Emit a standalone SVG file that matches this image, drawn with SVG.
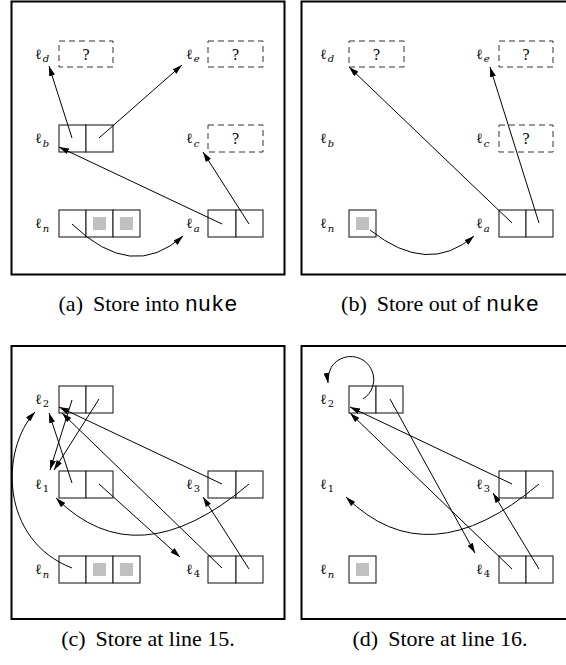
<svg xmlns="http://www.w3.org/2000/svg" width="566" height="665" viewBox="0 0 566 665">
<defs>
<marker id="ah" viewBox="0 0 10 6" markerWidth="10" markerHeight="6" refX="10" refY="3" orient="auto" markerUnits="userSpaceOnUse">
<path d="M0,0 L10,3 L0,6 Z" fill="#000"/>
</marker>
<style>
.frame{fill:none;stroke:#000;stroke-width:2}
.cell{fill:#fff;stroke:#222;stroke-width:1.1}
.unk{fill:none;stroke:#333;stroke-width:1;stroke-dasharray:6 4}
.gray{fill:#c0c0c0}
.ell{font-family:"DejaVu Serif",serif;font-size:14px;fill:#000}
.sub{font-size:10px;font-style:italic}
.num{font-size:10px}
.q{font-family:"Liberation Serif",serif;font-size:16px;text-anchor:middle;fill:#000}
.edge{fill:none;stroke:#000;stroke-width:1;marker-end:url(#ah)}
.cap{font-family:"Liberation Serif",serif;font-size:22px;text-anchor:middle;fill:#000}
.tt{font-family:"Liberation Mono",monospace}
</style>
</defs>
<rect width="566" height="665" fill="#fff"/>

<!-- Panel (a) -->
<g id="panel-a">
<rect class="frame" x="11.5" y="1.5" width="273" height="273"/>
<g id="a-ld"><text class="ell" x="35" y="58.5">ℓ<tspan class="sub" dx="1" dy="3.5">d</tspan></text><rect class="unk" x="59" y="41" width="54" height="26"/><text class="q" x="86" y="60">?</text></g>
<g id="a-le"><text class="ell" x="186" y="58.5">ℓ<tspan class="sub" dx="1" dy="3.5">e</tspan></text><rect class="unk" x="208" y="41" width="55" height="26"/><text class="q" x="235.5" y="60">?</text></g>
<g id="a-lb"><text class="ell" x="35" y="143">ℓ<tspan class="sub" dx="1" dy="3.5">b</tspan></text><rect class="cell" x="59" y="125" width="27" height="27"/><rect class="cell" x="86" y="125" width="27" height="27"/></g>
<g id="a-lc"><text class="ell" x="186" y="143">ℓ<tspan class="sub" dx="1" dy="3.5">c</tspan></text><rect class="unk" x="208" y="125" width="55" height="27"/><text class="q" x="235.5" y="144">?</text></g>
<g id="a-ln"><text class="ell" x="35" y="228">ℓ<tspan class="sub" dx="1" dy="3.5">n</tspan></text><rect class="cell" x="59" y="210" width="27" height="27"/><rect class="cell" x="86" y="210" width="27" height="27"/><rect class="cell" x="113" y="210" width="27" height="27"/><rect class="gray" x="93" y="217" width="13" height="13"/><rect class="gray" x="120" y="217" width="13" height="13"/></g>
<g id="a-la"><text class="ell" x="186" y="228">ℓ<tspan class="sub" dx="1" dy="3.5">a</tspan></text><rect class="cell" x="208" y="210" width="28" height="27"/><rect class="cell" x="236" y="210" width="27" height="27"/></g>
<g id="a-edges">
<path class="edge" d="M72,138 L49,66"/>
<path class="edge" d="M99,138 L182,65"/>
<path class="edge" d="M222,224 L59,147"/>
<path class="edge" d="M249,224 L203,152"/>
<path class="edge" d="M72,224 Q132,282 183,236"/>
</g>
</g>
<text class="cap" x="148" y="311">(a)<tspan dx="10">Store into </tspan><tspan class="tt">nuke</tspan></text>

<!-- Panel (b) -->
<g id="panel-b">
<rect class="frame" x="301.5" y="1.5" width="273" height="273"/>
<g id="b-ld"><text class="ell" x="320" y="58.5">ℓ<tspan class="sub" dx="1" dy="3.5">d</tspan></text><rect class="unk" x="349" y="41" width="55" height="26"/><text class="q" x="376.5" y="60">?</text></g>
<g id="b-le"><text class="ell" x="476" y="58.5">ℓ<tspan class="sub" dx="1" dy="3.5">e</tspan></text><rect class="unk" x="499" y="41" width="54" height="26"/><text class="q" x="526" y="60">?</text></g>
<g id="b-lb"><text class="ell" x="320" y="143">ℓ<tspan class="sub" dx="1" dy="3.5">b</tspan></text></g>
<g id="b-lc"><text class="ell" x="476" y="143">ℓ<tspan class="sub" dx="1" dy="3.5">c</tspan></text><rect class="unk" x="499" y="125" width="54" height="27"/><text class="q" x="526" y="144">?</text></g>
<g id="b-ln"><text class="ell" x="320" y="228">ℓ<tspan class="sub" dx="1" dy="3.5">n</tspan></text><rect class="cell" x="349" y="210" width="27" height="27"/><rect class="gray" x="356" y="217" width="13" height="13"/></g>
<g id="b-la"><text class="ell" x="476" y="228">ℓ<tspan class="sub" dx="1" dy="3.5">a</tspan></text><rect class="cell" x="499" y="210" width="27" height="27"/><rect class="cell" x="526" y="210" width="27" height="27"/></g>
<g id="b-edges">
<path class="edge" d="M512,223 L349,67"/>
<path class="edge" d="M539,223 L490,67"/>
<path class="edge" d="M370,230 Q428,276 474,236"/>
</g>
</g>
<text class="cap" x="440" y="311">(b)<tspan dx="10">Store out of </tspan><tspan class="tt">nuke</tspan></text>

<!-- Panel (c) -->
<g id="panel-c">
<rect class="frame" x="11.5" y="346" width="273" height="273"/>
<g id="c-l2"><text class="ell" x="35" y="403.5">ℓ<tspan class="num" dx="1" dy="3">2</tspan></text><rect class="cell" x="59" y="386" width="27" height="27"/><rect class="cell" x="86" y="386" width="27" height="27"/></g>
<g id="c-l1"><text class="ell" x="35" y="488.5">ℓ<tspan class="num" dx="1" dy="3">1</tspan></text><rect class="cell" x="59" y="471" width="27" height="27"/><rect class="cell" x="86" y="471" width="27" height="27"/></g>
<g id="c-l3"><text class="ell" x="186" y="488.5">ℓ<tspan class="num" dx="1" dy="3">3</tspan></text><rect class="cell" x="208" y="471" width="28" height="27"/><rect class="cell" x="236" y="471" width="27" height="27"/></g>
<g id="c-ln"><text class="ell" x="35" y="574">ℓ<tspan class="sub" dx="1" dy="3.5">n</tspan></text><rect class="cell" x="59" y="556" width="27" height="27"/><rect class="cell" x="86" y="556" width="27" height="27"/><rect class="cell" x="113" y="556" width="27" height="27"/><rect class="gray" x="93" y="563" width="13" height="13"/><rect class="gray" x="120" y="563" width="13" height="13"/></g>
<g id="c-l4"><text class="ell" x="186" y="574">ℓ<tspan class="num" dx="1" dy="3">4</tspan></text><rect class="cell" x="208" y="556" width="28" height="27"/><rect class="cell" x="236" y="556" width="27" height="27"/></g>
<g id="c-edges">
<path class="edge" d="M72,400 L50,470"/>
<path class="edge" d="M99,399 L54,470"/>
<path class="edge" d="M72,483 L49,413"/>
<path class="edge" d="M99,484 L180,557"/>
<path class="edge" d="M222,484 L59,407"/>
<path class="edge" d="M222,568 L62,413"/>
<path class="edge" d="M249,569 L203,497"/>
<path class="edge" d="M249,484 Q137,579 56,498"/>
<path class="edge" d="M72,568 C0,540 0,450 35,412"/>
</g>
</g>
<text class="cap" x="148" y="646">(c)<tspan dx="10">Store at line 15.</tspan></text>

<!-- Panel (d) -->
<g id="panel-d">
<rect class="frame" x="301.5" y="346" width="273" height="273"/>
<g id="d-l2"><text class="ell" x="320" y="403.5">ℓ<tspan class="num" dx="1" dy="3">2</tspan></text><rect class="cell" x="349" y="386" width="27" height="27"/><rect class="cell" x="376" y="386" width="27" height="27"/></g>
<g id="d-l1"><text class="ell" x="320" y="488.5">ℓ<tspan class="num" dx="1" dy="3">1</tspan></text></g>
<g id="d-l3"><text class="ell" x="476" y="488.5">ℓ<tspan class="num" dx="1" dy="3">3</tspan></text><rect class="cell" x="499" y="471" width="27" height="27"/><rect class="cell" x="526" y="471" width="27" height="27"/></g>
<g id="d-ln"><text class="ell" x="320" y="574">ℓ<tspan class="sub" dx="1" dy="3.5">n</tspan></text><rect class="cell" x="349" y="556" width="27" height="27"/><rect class="gray" x="356" y="563" width="13" height="13"/></g>
<g id="d-l4"><text class="ell" x="476" y="574">ℓ<tspan class="num" dx="1" dy="3">4</tspan></text><rect class="cell" x="499" y="556" width="27" height="27"/><rect class="cell" x="526" y="556" width="27" height="27"/></g>
<g id="d-edges">
<path class="edge" d="M363,399 A23,23 0 1 0 328,383"/>
<path class="edge" d="M390,399 L475,553"/>
<path class="edge" d="M512,484 L350,407"/>
<path class="edge" d="M512,569 L350,413"/>
<path class="edge" d="M539,569 L493,493"/>
<path class="edge" d="M539,484 Q428,578 346,497"/>
</g>
</g>
<text class="cap" x="440" y="646">(d)<tspan dx="10">Store at line 16.</tspan></text>
</svg>
